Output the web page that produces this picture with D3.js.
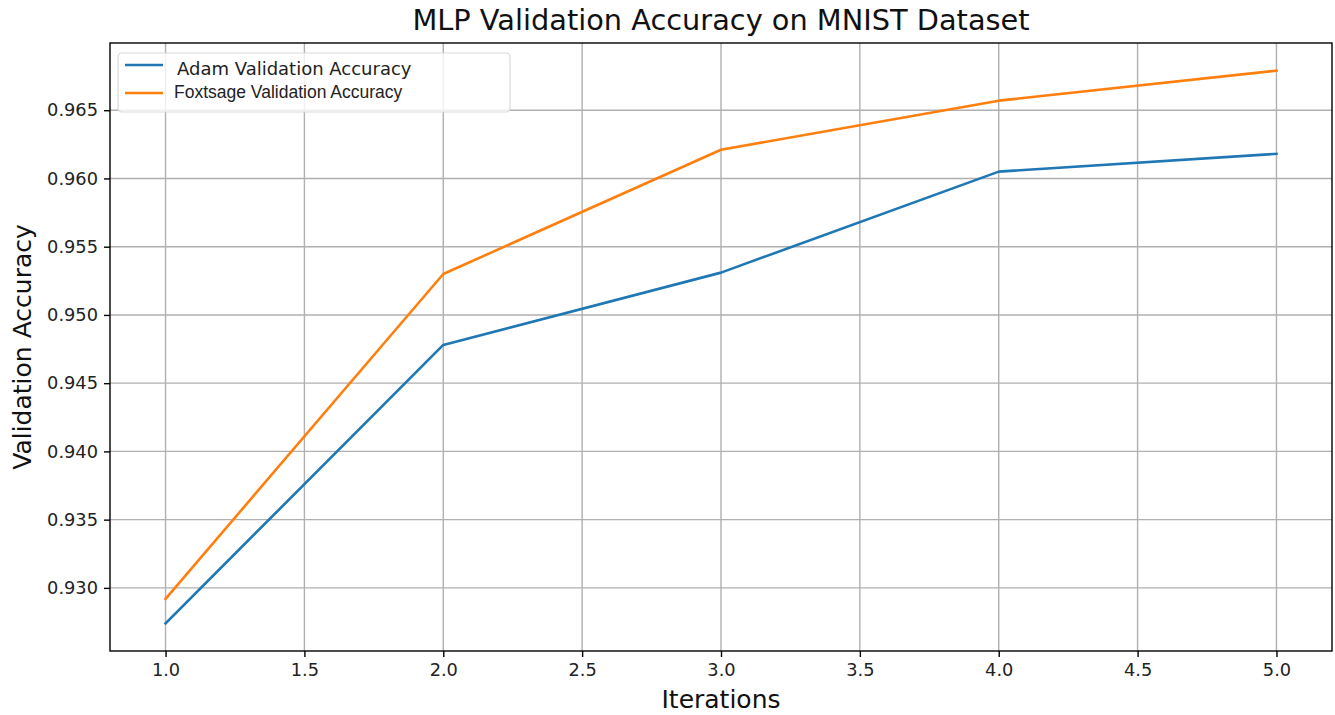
<!DOCTYPE html>
<html>
<head>
<meta charset="utf-8">
<script src="https://cdn.jsdelivr.net/npm/d3@7"></script>
<style>
  body { margin: 0; background: #fff; }
  svg { display: block; }
</style>
</head>
<body>
<div class="chart"></div>
<script>
// chart data
var iterations = [1, 2, 3, 4, 5];
var adamAcc = [0.9274, 0.9478, 0.9531, 0.9605, 0.9618];
var foxAcc = [0.9292, 0.9530, 0.9621, 0.9657, 0.9679];
var xTicks = [1.0, 1.5, 2.0, 2.5, 3.0, 3.5, 4.0, 4.5, 5.0];
var yTicks = [0.930, 0.935, 0.940, 0.945, 0.950, 0.955, 0.960, 0.965];
var seriesNames = ["Adam Validation Accuracy", "Foxtsage Validation Accuracy"];

var svgWidth = 1335;
var svgHeight = 715;
var margin = { top: 43, bottom: 64, left: 110, right: 3 };
var width = svgWidth - margin.left - margin.right;
var height = svgHeight - margin.top - margin.bottom;

var svg = d3.select(".chart")
  .append("svg")
  .attr("width", svgWidth)
  .attr("height", svgHeight)
  .style("font-family", "'DejaVu Sans', sans-serif");

var chartGroup = svg.append("g")
  .attr("transform", `translate(${margin.left},${margin.top})`);

// scales (matplotlib style 5% padding)
var xScale = d3.scaleLinear().domain([0.8, 5.2]).range([0, width]);
var yMin = d3.min(adamAcc.concat(foxAcc));
var yMax = d3.max(adamAcc.concat(foxAcc));
var pad = (yMax - yMin) * 0.05;
var yScale = d3.scaleLinear().domain([yMin - pad, yMax + pad]).range([height, 0]);

// grid
chartGroup.append("g")
  .selectAll("line.vg")
  .data(xTicks)
  .enter().append("line")
  .attr("x1", d => xScale(d)).attr("x2", d => xScale(d))
  .attr("y1", 0).attr("y2", height)
  .attr("stroke", "#b0b0b0").attr("stroke-width", 1.4);
chartGroup.append("g")
  .selectAll("line.hg")
  .data(yTicks)
  .enter().append("line")
  .attr("y1", d => yScale(d)).attr("y2", d => yScale(d))
  .attr("x1", 0).attr("x2", width)
  .attr("stroke", "#b0b0b0").attr("stroke-width", 1.4);

// axes
var xAxis = d3.axisBottom(xScale).tickValues(xTicks).tickFormat(d3.format(".1f")).tickSize(6).tickPadding(6);
var yAxis = d3.axisLeft(yScale).tickValues(yTicks).tickFormat(d3.format(".3f")).tickSize(6).tickPadding(6);

var gx = chartGroup.append("g")
  .attr("transform", `translate(0,${height})`)
  .call(xAxis);
var gy = chartGroup.append("g").call(yAxis);
[gx, gy].forEach(function(g) {
  g.select(".domain").remove();
  g.selectAll(".tick line").attr("stroke", "#000").attr("stroke-width", 1.4);
  g.selectAll(".tick text")
    .attr("fill", "#222")
    .style("font-size", "17.8px")
    .style("font-family", "'DejaVu Sans', sans-serif");
});

// lines
var line = d3.line()
  .x((d, i) => xScale(iterations[i]))
  .y(d => yScale(d));
var colors = ["#1f77b4", "#ff7f0e"];
[adamAcc, foxAcc].forEach(function(vals, i) {
  chartGroup.append("path")
    .datum(vals)
    .attr("d", line)
    .attr("fill", "none")
    .attr("stroke", colors[i])
    .attr("stroke-width", 2.6)
    .attr("stroke-linejoin", "round")
    .attr("stroke-linecap", "square");
});

// frame
chartGroup.append("rect")
  .attr("width", width).attr("height", height)
  .attr("fill", "none").attr("stroke", "#000").attr("stroke-width", 1.4);

// legend
var legend = chartGroup.append("g").attr("transform", "translate(8,10)");
legend.append("rect")
  .attr("width", 392).attr("height", 59)
  .attr("rx", 4)
  .attr("fill", "#fff").attr("fill-opacity", 0.8)
  .attr("stroke", "#d9d9d9").attr("stroke-width", 1.2);
seriesNames.forEach(function(name, i) {
  var yy = 12 + i * 28;
  legend.append("line")
    .attr("x1", 7).attr("x2", 45)
    .attr("y1", yy).attr("y2", yy)
    .attr("stroke", colors[i]).attr("stroke-width", 2.6);
  legend.append("text")
    .attr("x", i === 0 ? 59 : 56)
    .attr("y", yy + (i === 0 ? 10 : 5))
    .attr("fill", "#222")
    .style("font-size", i === 0 ? "18px" : "17.5px")
    .style("font-family", i === 0 ? "'DejaVu Sans', sans-serif" : "'Liberation Sans', Arial, sans-serif")
    .text(name);
});

// title and labels
svg.append("text")
  .attr("x", margin.left + width / 2)
  .attr("y", 30)
  .attr("text-anchor", "middle")
  .attr("fill", "#111")
  .style("font-size", "28.8px")
  .text("MLP Validation Accuracy on MNIST Dataset");

svg.append("text")
  .attr("x", margin.left + width / 2)
  .attr("y", 708)
  .attr("text-anchor", "middle")
  .attr("fill", "#111")
  .style("font-size", "25px")
  .text("Iterations");

svg.append("text")
  .attr("transform", `translate(31,${margin.top + height / 2}) rotate(-90)`)
  .attr("text-anchor", "middle")
  .attr("fill", "#111")
  .style("font-size", "25px")
  .text("Validation Accuracy");
</script>
</body>
</html>
